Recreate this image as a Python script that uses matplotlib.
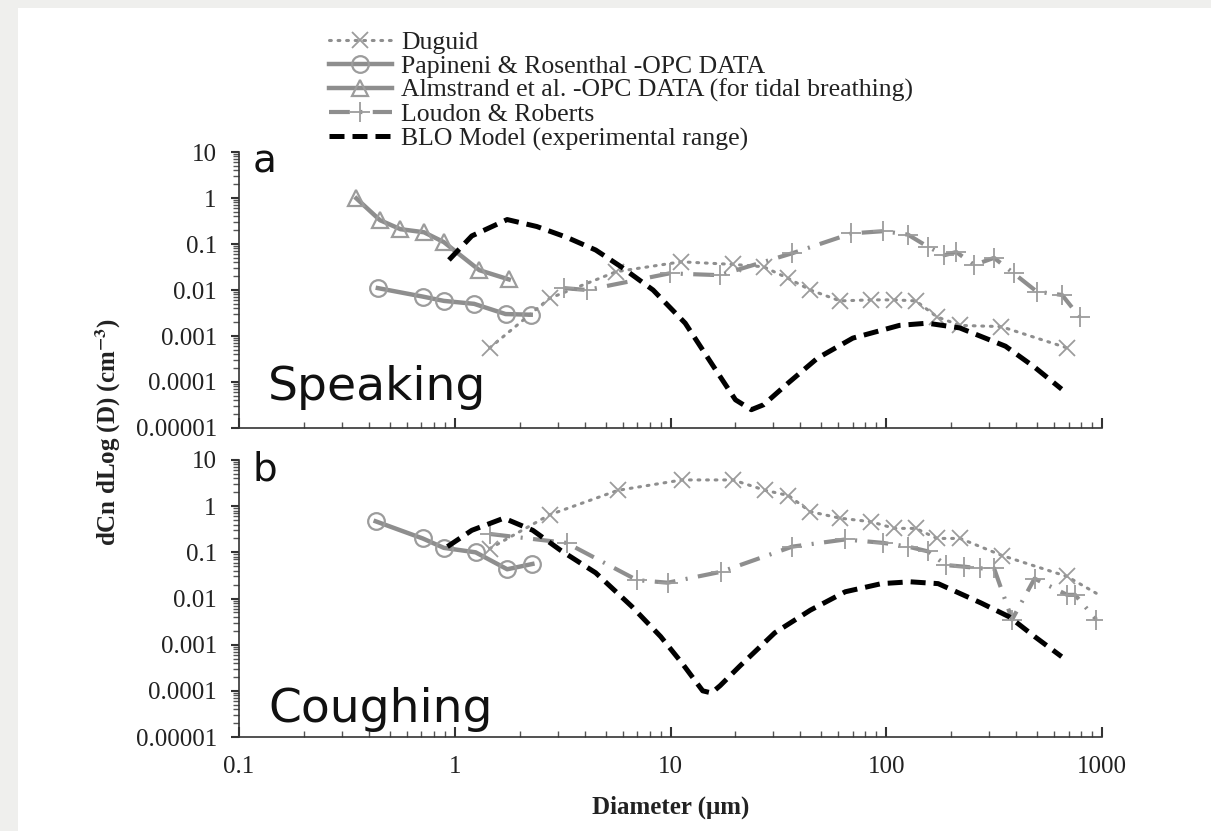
import numpy as np
import matplotlib
matplotlib.use("Agg")
import matplotlib.pyplot as plt
from matplotlib.ticker import LogLocator, FixedLocator, NullFormatter
from matplotlib.lines import Line2D
from matplotlib.patches import Rectangle

plt.rcParams['font.family'] = ['Liberation Serif', 'DejaVu Serif']
plt.rcParams['mathtext.fontset'] = 'stix'

# ---- data ----
# panel a: speaking
alm_a_x = [0.35, 0.45, 0.56, 0.72, 0.89, 1.3, 1.78]
alm_a_y = [0.98, 0.33, 0.21, 0.18, 0.11, 0.027, 0.017]

pap_a_x = [0.44, 0.71, 0.89, 1.23, 1.72, 2.25]
pap_a_y = [0.011, 0.0072, 0.0058, 0.005, 0.003, 0.0029]

dug_a_x = [1.45, 2.75, 5.6, 11.2, 19.5, 27, 35, 44.5, 61, 85, 109, 137, 172, 220, 341, 690]
dug_a_y = [0.00055, 0.0066, 0.025, 0.041, 0.036, 0.032, 0.018, 0.010, 0.0058, 0.0061,
           0.0061, 0.0058, 0.0026, 0.0017, 0.0016, 0.00055]

lou_a_x = [3.2, 4.1, 9.9, 16.9, 36.7, 69, 97, 126, 156, 186, 211, 256, 316, 390, 499, 653, 787]
lou_a_y = [0.011, 0.010, 0.023, 0.021, 0.063, 0.17, 0.19, 0.16, 0.087, 0.057, 0.067,
           0.035, 0.05, 0.023, 0.0092, 0.0078, 0.0026]

blo_a_x = [0.94, 1.2, 1.75, 2.4, 3.3, 4.5, 5.9, 8.3, 11.7, 15.9, 20, 23.7, 27, 35.2,
           48, 70, 115, 155, 219, 357, 487, 650]
blo_a_y = [0.045, 0.15, 0.34, 0.24, 0.14, 0.074, 0.032, 0.01, 0.0019, 0.00021, 4.1e-5,
           2.5e-5, 3.2e-5, 9.6e-5, 0.00033, 0.0009, 0.0017, 0.0019, 0.0015, 0.0006,
           0.00021, 7e-5]

# panel b: coughing
pap_b_x = [0.43, 0.71, 0.89, 1.25, 1.75, 2.29]
pap_b_y = [0.47, 0.2, 0.125, 0.1, 0.043, 0.056]

dug_b_x = [1.45, 2.75, 5.7, 11.3, 19.5, 27.5, 35.2, 44.5, 61, 85, 109, 137, 172, 220,
           345, 689, 940]
dug_b_y = [0.12, 0.65, 2.2, 3.7, 3.7, 2.2, 1.7, 0.76, 0.55, 0.46, 0.33, 0.33, 0.2, 0.2,
           0.085, 0.03, 0.013]

lou_b_x = [1.45, 3.3, 7.0, 9.7, 17.2, 36.7, 64.6, 96.8, 126, 156, 189, 229, 271, 316,
           383, 487, 689, 750, 940]
lou_b_y = [0.25, 0.16, 0.025, 0.022, 0.038, 0.133, 0.19, 0.16, 0.133, 0.105, 0.053,
           0.049, 0.045, 0.045, 0.0035, 0.027, 0.012, 0.012, 0.0035]

blo_b_x = [0.925, 1.2, 1.69, 2.3, 3.1, 4.5, 6.6, 9.0, 11.3, 14.1, 15.5, 17, 20.9, 30.4,
           44.5, 64.6, 95, 129, 174, 275, 372, 487, 650]
blo_b_y = [0.133, 0.3, 0.55, 0.3, 0.11, 0.036, 0.0068, 0.0015, 0.0004, 0.0001, 9e-5,
           0.00013, 0.00034, 0.0018, 0.0056, 0.014, 0.021, 0.023, 0.021, 0.008, 0.004,
           0.0015, 0.00055]

x_ticks = [0.1, 1, 10, 100, 1000]
x_tick_labels = ['0.1', '1', '10', '100', '1000']
y_ticks = [1e-5, 1e-4, 1e-3, 1e-2, 1e-1, 1, 10]
y_tick_labels = ['0.00001', '0.0001', '0.001', '0.01', '0.1', '1', '10']

legend_labels = ['Duguid', 'Papineni & Rosenthal -OPC DATA',
                 'Almstrand et al. -OPC DATA (for tidal breathing)',
                 'Loudon & Roberts', 'BLO Model (experimental range)']

GREY = '#9c9c9c'
LINE_GREY = '#8e8e8e'
TXT = '#222222'

fig = plt.figure(figsize=(12.11, 8.31), dpi=100, facecolor='#efefed')
fig.patches.append(Rectangle((18 / 1211, 0), 1, 1 - 8 / 831, transform=fig.transFigure,
                             facecolor='white', edgecolor='none', zorder=-10))

ax_a = fig.add_axes([239 / 1211, 1 - 428 / 831, 863 / 1211, 276 / 831])
ax_b = fig.add_axes([239 / 1211, 1 - 737 / 831, 863 / 1211, 277 / 831])

dug_kw = dict(color=LINE_GREY, linestyle=(0, (0.6, 2.2)), lw=2.2, dash_capstyle='round',
              marker='x', ms=11, mew=1.3, mec=GREY)
pap_kw = dict(color=LINE_GREY, lw=3.2, marker='o', ms=12, mfc='none', mec=GREY, mew=1.6)
alm_kw = dict(color=LINE_GREY, lw=3.2, marker='^', ms=11, mfc='none', mec=GREY, mew=1.6)
lou_kw = dict(color=LINE_GREY, lw=3.0, linestyle=(0, (5, 2.5, 0.5, 2.5)),
              marker='+', ms=14, mew=1.3, mec=GREY)
blo_kw = dict(color='black', lw=3.6, linestyle=(0, (3.0, 1.6)))


def style(ax, show_xlabels):
    ax.set_xscale('log')
    ax.set_yscale('log')
    ax.set_xlim(0.1, 1000)
    ax.set_ylim(1e-5, 10)
    for s in ['top', 'right']:
        ax.spines[s].set_visible(False)
    for s in ['left', 'bottom']:
        ax.spines[s].set_linewidth(1.2)
        ax.spines[s].set_color('#333333')
    ax.xaxis.set_major_locator(FixedLocator(x_ticks))
    ax.xaxis.set_minor_locator(LogLocator(base=10, subs=np.arange(2, 10), numticks=20))
    ax.yaxis.set_major_locator(FixedLocator(y_ticks))
    ax.yaxis.set_minor_locator(LogLocator(base=10, subs=np.arange(2, 10), numticks=20))
    ax.set_yticklabels(y_tick_labels)
    if show_xlabels:
        ax.set_xticklabels(x_tick_labels)
    else:
        ax.set_xticklabels([])
    ax.xaxis.set_minor_formatter(NullFormatter())
    ax.yaxis.set_minor_formatter(NullFormatter())
    ax.tick_params(which='major', length=7, width=1.5, color='#333333',
                   labelsize=18, labelcolor=TXT)
    ax.tick_params(which='minor', length=4, width=1.0, color='#555555')
    ax.tick_params(axis='x', which='both', direction='in')
    ax.tick_params(axis='y', which='both', direction='out')
    ax.tick_params(axis='y', which='major', length=6)
    ax.tick_params(axis='x', which='major', pad=14)
    ax.tick_params(axis='y', which='major', pad=10)


# panel a
ax_a.plot(alm_a_x, alm_a_y, **alm_kw)
ax_a.plot(pap_a_x, pap_a_y, **pap_kw)
ax_a.plot(dug_a_x, dug_a_y, **dug_kw)
ax_a.plot(lou_a_x, lou_a_y, **lou_kw)
ax_a.plot(blo_a_x, blo_a_y, **blo_kw)
style(ax_a, False)
ax_a.text(0.016, 0.925, 'a', transform=ax_a.transAxes, fontsize=28,
          family='DejaVu Sans', color='#111111', va='baseline')
ax_a.text(0.034, 0.10, 'Speaking', transform=ax_a.transAxes, fontsize=34,
          family='DejaVu Sans', color='#111111', va='baseline')

# panel b
ax_b.plot(pap_b_x, pap_b_y, **pap_kw)
ax_b.plot(dug_b_x, dug_b_y, markevery=list(range(len(dug_b_x) - 1)), **dug_kw)
ax_b.plot(lou_b_x, lou_b_y, **lou_kw)
ax_b.plot(blo_b_x, blo_b_y, **blo_kw)
style(ax_b, True)
ax_b.text(0.016, 0.925, 'b', transform=ax_b.transAxes, fontsize=28,
          family='DejaVu Sans', color='#111111', va='baseline')
ax_b.text(0.034, 0.055, 'Coughing', transform=ax_b.transAxes, fontsize=34,
          family='DejaVu Sans', color='#111111', va='baseline')

ax_b.set_xlabel('Diameter (μm)', fontsize=18, fontweight='bold', color=TXT, labelpad=12)
fig.text(108 / 1211, 1 - 432 / 831, r'dCn dLog (D) (cm$^{\mathbf{-3}}$)', rotation=90,
         ha='center', va='center', fontsize=18, fontweight='bold', color=TXT)

handles = [Line2D([], [], **dug_kw), Line2D([], [], **pap_kw), Line2D([], [], **alm_kw),
           Line2D([], [], **lou_kw), Line2D([], [], **blo_kw)]
fig.legend(handles, legend_labels, loc='upper left', bbox_to_anchor=(329 / 1211, 1 - 31 / 831),
           frameon=False, fontsize=18.5, handlelength=2.45, handletextpad=0.35,
           labelspacing=0.04, borderpad=0, borderaxespad=0, labelcolor=TXT)

fig.savefig('out.png', dpi=100, facecolor=fig.get_facecolor())
